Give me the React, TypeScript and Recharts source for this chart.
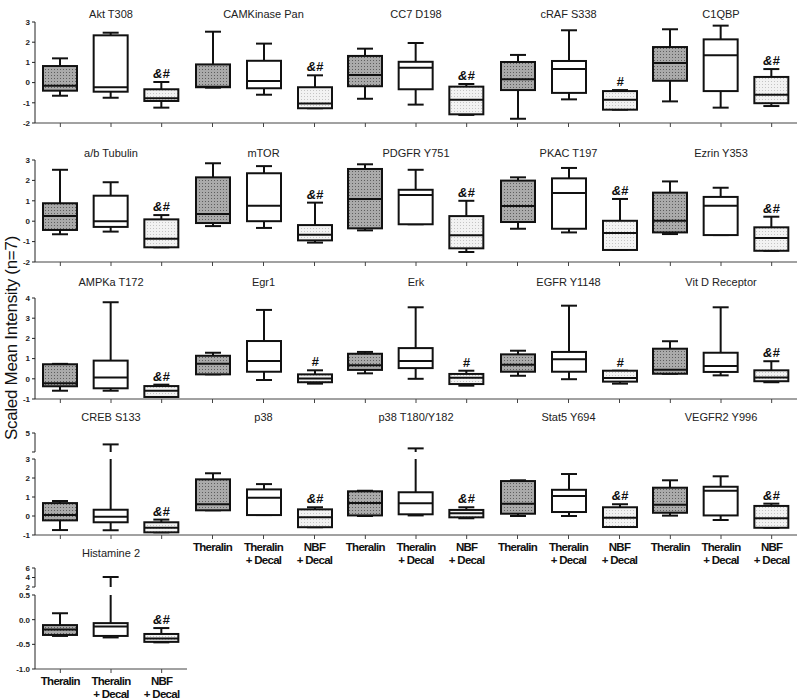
import React from "react";
import { ComposedChart, Bar, XAxis, YAxis, LabelList } from "recharts";

// treatment groups on every panel
const groups = ["Theralin", "Theralin + Decal", "NBF + Decal"];

const titles = [
  "Akt T308", "CAMKinase Pan", "CC7 D198", "cRAF S338", "C1QBP",
  "a/b Tubulin", "mTOR", "PDGFR Y751", "PKAC T197", "Ezrin Y353",
  "AMPKa T172", "Egr1", "Erk", "EGFR Y1148", "Vit D Receptor",
  "CREB S133", "p38", "p38 T180/Y182", "Stat5 Y694", "VEGFR2 Y996",
  "Histamine 2",
];

// box plot statistics, one triplet (Theralin, Theralin + Decal, NBF + Decal) per panel
const maxVals = [
  [1.2, 2.47, 0.03], [2.52, 1.93, 0.36], [1.68, 1.96, -0.07], [1.37, 2.59, -0.37], [2.64, 2.82, 0.67],
  [2.52, 1.91, 0.3], [2.84, 2.7, 0.91], [2.79, 2.52, 1.0], [2.15, 2.61, 1.09], [1.95, 1.64, 0.22],
  [0.74, 3.79, -0.29], [1.29, 3.41, 0.42], [1.33, 3.54, 0.4], [1.39, 3.62, 0.4], [1.86, 3.54, 0.87],
  [0.79, 4.4, -0.19], [2.25, 1.68, 0.46], [1.33, 4.19, 0.46], [1.88, 2.21, 0.62], [1.88, 2.09, 0.65],
  [0.13, 4.1, -0.17],
];
const q3Vals = [
  [0.82, 2.34, -0.33], [0.9, 1.08, -0.23], [1.32, 1.03, -0.2], [1.02, 1.07, -0.42], [1.76, 2.14, 0.28],
  [0.88, 1.25, 0.09], [2.15, 2.35, -0.19], [2.56, 1.54, 0.25], [1.99, 2.1, 0.02], [1.4, 1.19, -0.3],
  [0.72, 0.9, -0.36], [1.14, 1.87, 0.22], [1.24, 1.52, 0.24], [1.21, 1.33, 0.4], [1.49, 1.29, 0.42],
  [0.68, 0.33, -0.33], [1.93, 1.4, 0.35], [1.3, 1.25, 0.32], [1.84, 1.38, 0.46], [1.49, 1.54, 0.53],
  [-0.11, -0.07, -0.29],
];
const medianVals = [
  [-0.16, -0.23, -0.78], [-0.2, 0.08, -1.04], [0.38, 0.74, -0.85], [0.16, 0.67, -0.85], [0.97, 1.35, -0.6],
  [0.25, 0.0, -0.86], [0.35, 0.76, -0.66], [1.09, 1.28, -0.69], [0.75, 1.38, -0.58], [0.02, 0.76, -0.82],
  [-0.22, 0.07, -0.59], [0.75, 0.88, 0.02], [0.67, 0.88, 0.05], [0.7, 0.97, 0.04], [0.45, 0.63, 0.07],
  [0.05, -0.04, -0.62], [0.62, 0.96, -0.07], [0.68, 0.67, 0.14], [0.65, 1.05, -0.09], [0.59, 1.33, -0.12],
  [-0.2, -0.14, -0.38],
];
const q1Vals = [
  [-0.4, -0.45, -0.91], [-0.23, -0.28, -1.27], [-0.18, -0.33, -1.57], [-0.37, -0.51, -1.34], [0.09, -0.42, -1.02],
  [-0.43, -0.28, -1.28], [-0.09, 0.0, -0.94], [-0.35, -0.15, -1.33], [-0.04, -0.37, -1.41], [-0.55, -0.68, -1.45],
  [-0.37, -0.47, -0.9], [0.22, 0.35, -0.17], [0.44, 0.53, -0.26], [0.35, 0.35, -0.14], [0.25, 0.34, -0.12],
  [-0.23, -0.33, -0.86], [0.3, 0.05, -0.59], [0.03, 0.09, -0.07], [0.12, 0.21, -0.58], [0.17, 0.03, -0.62],
  [-0.31, -0.33, -0.45],
];
const minVals = [
  [-0.65, -0.75, -1.24], [-0.25, -0.6, -1.27], [-0.8, -1.09, -1.6], [-1.79, -0.83, -1.34], [-0.93, -1.24, -1.16],
  [-0.64, -0.51, -1.28], [-0.24, -0.33, -1.05], [-0.45, -0.15, -1.51], [-0.37, -0.55, -1.41], [-0.63, -0.68, -1.45],
  [-0.59, -0.59, -0.9], [0.22, -0.06, -0.24], [0.27, 0.0, -0.34], [0.15, -0.02, -0.24], [0.25, 0.17, -0.17],
  [-0.74, -0.75, -0.86], [0.3, 0.05, -0.59], [0.0, 0.03, -0.12], [0.0, 0.0, -0.58], [0.02, -0.21, -0.62],
  [-0.33, -0.36, -0.46],
];
// significance mark over the NBF + Decal box
const sigMarks = [
  "&#", "&#", "&#", "#", "&#",
  "&#", "&#", "&#", "&#", "&#",
  "&#", "#", "#", "#", "&#",
  "&#", "&#", "&#", "&#", "&#",
  "&#",
];

// y axis ticks per row (original units) and where the axis is broken
const rowTicks = [
  [-2, -1, 0, 1, 2, 3],
  [-2, -1, 0, 1, 2, 3],
  [-1, 0, 1, 2, 3, 4],
  [-1, 0, 1, 2, 3, 4, 5],
  [-1, -0.5, 0, 0.5, 2, 4, 6],
];
const rowTickLabels = [
  ["-2", "-1", "0", "1", "2", "3"],
  ["-2", "-1", "0", "1", "2", "3"],
  ["-1", "0", "1", "2", "3", "4"],
  ["-1", "0", "1", "2", "3", "", "5"],
  ["-1.0", "-0.5", "0.0", "0.5", "2", "4", "6"],
];
const rowMin = [-2, -2, -1, -1, -1];
const rowMax = [3, 3, 4, 5, 6];
// [lower segment top, upper segment bottom, gap (lower units), upper scale] or null
const rowBreaks: (number[] | null)[] = [null, null, null, [3, 4, 0.37, 1], [0.5, 2, 0.162, 0.0963]];

// page layout
const rowTop = [22, 160, 298, 433, 568];
const rowBottom = [123, 262, 399, 535, 669];
const titleY = [14, 153, 282, 417, 553];
const colLeft = [35, 187, 340, 492, 645, 797];

const fills = ["url(#dotDark)", "#ffffff", "url(#dotLight)"];

const toAxis = (row: number, v: number) => {
  const b = rowBreaks[row];
  if (!b || v <= b[0]) return v;
  return b[0] + b[2] + (v - b[1]) * b[3];
};

const BoxShape = (props: any) => {
  const { x, y, width, height, index, axisGap } = props;
  const d = props.payload || props;
  const top = Math.min(y, y + height);
  const h = Math.abs(height);
  const [lo, hi] = d.range;
  const py = (v: number) => (hi === lo ? top : top + ((hi - v) / (hi - lo)) * h);
  const cx = x + width / 2;
  const cap = 8;
  const ink = "#111";
  // upper whisker, split where the axis is broken
  const split = axisGap && hi > axisGap[1] && d.q3 < axisGap[0];
  return (
    <g>
      {split ? (
        <>
          <line x1={cx} x2={cx} y1={py(hi)} y2={py(axisGap[1])} stroke={ink} strokeWidth={2} />
          <line x1={cx} x2={cx} y1={py(axisGap[0])} y2={py(d.q3)} stroke={ink} strokeWidth={2} />
        </>
      ) : (
        <line x1={cx} x2={cx} y1={py(hi)} y2={py(d.q3)} stroke={ink} strokeWidth={2} />
      )}
      <line x1={cx} x2={cx} y1={py(d.q1)} y2={py(lo)} stroke={ink} strokeWidth={2} />
      <line x1={cx - cap} x2={cx + cap} y1={py(hi)} y2={py(hi)} stroke={ink} strokeWidth={2} />
      <line x1={cx - cap} x2={cx + cap} y1={py(lo)} y2={py(lo)} stroke={ink} strokeWidth={2} />
      <rect
        x={x}
        y={py(d.q3)}
        width={width}
        height={Math.max(1, py(d.q1) - py(d.q3))}
        fill={fills[index]}
        stroke={ink}
        strokeWidth={2}
      />
      <line x1={x} x2={x + width} y1={py(d.med)} y2={py(d.med)} stroke={ink} strokeWidth={2} />
    </g>
  );
};

const XTick = (props: any) => {
  const { x, y, payload, show } = props;
  if (!show) return <g />;
  const parts = String(payload.value).split(" + ");
  const lines = parts[1] ? [parts[0], "+ " + parts[1]] : [parts[0]];
  return (
    <g>
      {lines.map((s, i) => (
        <text
          key={i}
          x={x}
          y={y + 10 + i * 13}
          textAnchor="middle"
          style={{
            fontFamily: "Arial, 'Liberation Sans', sans-serif",
            fontSize: 11.5,
            fontWeight: 700,
            letterSpacing: -0.7,
            fill: "#111",
          }}
        >
          {s}
        </text>
      ))}
    </g>
  );
};

const Panel = ({ idx }: { idx: number }) => {
  const row = Math.floor(idx / 5);
  const col = idx % 5;
  const labeled = (row === 3 && col > 0) || row === 4;
  const yAxisW = col === 0 ? 35 : 0;
  const xAxisH = labeled ? 44 : 6;
  const plotW = colLeft[col + 1] - colLeft[col];
  const plotH = rowBottom[row] - rowTop[row];
  const marginTop = 4;

  const data = groups.map((g, i) => ({
    group: g,
    range: [toAxis(row, minVals[idx][i]), toAxis(row, maxVals[idx][i])],
    q3: toAxis(row, q3Vals[idx][i]),
    med: toAxis(row, medianVals[idx][i]),
    q1: toAxis(row, q1Vals[idx][i]),
    sig: i === 2 ? sigMarks[idx] : "",
  }));

  const ticks = rowTicks[row].map((t) => toAxis(row, t));
  const tickLabel = (v: number) => {
    const k = ticks.findIndex((t) => Math.abs(t - v) < 1e-6);
    return k >= 0 ? rowTickLabels[row][k] : "";
  };
  const dMin = toAxis(row, rowMin[row]);
  const dMax = toAxis(row, rowMax[row]);
  const brk = rowBreaks[row];
  const axisGap = brk ? [brk[0], brk[0] + brk[2]] : null;
  // axis line drawn top to bottom: upper piece, gap, lower piece
  const pxPerUnit = plotH / (dMax - dMin);
  const dash = axisGap
    ? `${(dMax - axisGap[1]) * pxPerUnit} ${(axisGap[1] - axisGap[0]) * pxPerUnit} ${plotH}`
    : undefined;

  return (
    <>
      <div
        style={{
          position: "absolute",
          left: colLeft[col],
          width: plotW,
          top: titleY[row] - 7,
          textAlign: "center",
          fontFamily: "Arial, 'Liberation Sans', sans-serif",
          fontSize: 11,
          lineHeight: "14px",
          color: "#222",
        }}
      >
        {titles[idx]}
      </div>
      <div
        style={{
          position: "absolute",
          left: colLeft[col] - yAxisW,
          top: rowTop[row] - marginTop,
        }}
      >
        <ComposedChart
          width={plotW + yAxisW}
          height={marginTop + plotH + xAxisH}
          data={data}
          margin={{ top: marginTop, right: 0, bottom: 0, left: 0 }}
        >
          <XAxis
            dataKey="group"
            type="category"
            interval={0}
            height={xAxisH}
            tickSize={4}
            tickLine={{ stroke: "#444" }}
            axisLine={{ stroke: "#444" }}
            tick={<XTick show={labeled} />}
          />
          <YAxis
            type="number"
            domain={[dMin, dMax]}
            allowDataOverflow
            ticks={ticks}
            interval={0}
            tickFormatter={tickLabel}
            width={yAxisW}
            tickSize={3}
            tick={col === 0 ? { fontSize: 8, fontWeight: 700, fill: "#222", fontFamily: "Arial, sans-serif" } : false}
            tickLine={col === 0 ? { stroke: "#222" } : false}
            axisLine={{
              stroke: col === 0 ? "#222" : "#666",
              strokeWidth: col === 0 ? 1 : 1.5,
              strokeDasharray: dash,
            }}
          />
          <Bar dataKey="range" barSize={34} shape={<BoxShape axisGap={axisGap} />} isAnimationActive={false}>
            <LabelList
              dataKey="sig"
              position="top"
              offset={4}
              style={{ fontFamily: "Arial, sans-serif", fontSize: 13, fontWeight: 700, fontStyle: "italic", fill: "#111" }}
            />
          </Bar>
        </ComposedChart>
      </div>
    </>
  );
};

const App: React.FC = () => {
  return (
    <div style={{ position: "absolute", left: 0, top: 0, width: 800, height: 700, background: "#fff" }}>
      <svg width={0} height={0} style={{ position: "absolute" }}>
        <defs>
          <pattern id="dotDark" width={3} height={3} patternUnits="userSpaceOnUse">
            <rect width={3} height={3} fill="#aaaaaa" />
            <rect width={1} height={1} fill="#5e5e5e" />
          </pattern>
          <pattern id="dotLight" width={3} height={3} patternUnits="userSpaceOnUse">
            <rect width={3} height={3} fill="#f2f2f2" />
            <rect width={1} height={1} fill="#c4c4c4" />
          </pattern>
        </defs>
      </svg>
      {titles.map((_, i) => (
        <Panel key={i} idx={i} />
      ))}
      <div
        style={{
          position: "absolute",
          left: 12 - 150,
          top: 338 - 11,
          width: 300,
          height: 22,
          lineHeight: "22px",
          textAlign: "center",
          transform: "rotate(-90deg)",
          fontFamily: "Arial, 'Liberation Sans', sans-serif",
          fontSize: 17,
          color: "#111",
          letterSpacing: -0.3,
        }}
      >
        Scaled Mean Intensity (n=7)
      </div>
    </div>
  );
};

export default App;
